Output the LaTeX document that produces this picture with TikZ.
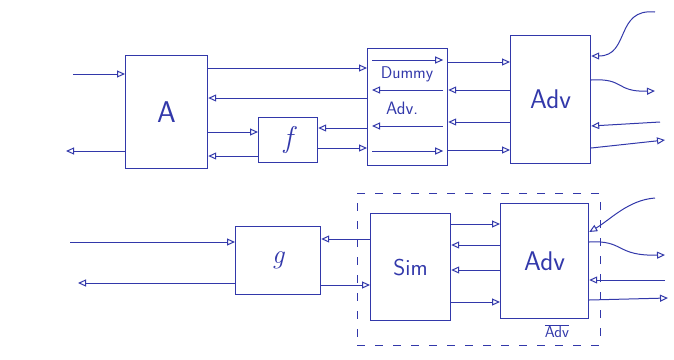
\documentclass[tikz,border=0pt]{standalone}
\usepackage{tikz}
\usetikzlibrary{arrows.meta,positioning,calc,fit}
\definecolor{pen}{RGB}{50,56,170}

\begin{document}
\begin{tikzpicture}[
  x=1pt,y=-1pt,
  box/.style={rectangle,draw=pen,line width=1.2pt,anchor=north west,inner sep=0pt,text=pen,font=\sffamily},
  lbl/.style={text=pen,font=\sffamily,inner sep=1pt},
  arrow/.style={pen,line width=1pt,-{Triangle[open,length=8pt,width=7pt]}},
  frame/.style={draw=pen,dashed,line width=0.8pt,dash pattern=on 8pt off 10pt,inner sep=0pt}
]
\useasboundingbox (0,0) rectangle (674,359);
% top row
\node[box,minimum width=82pt,minimum height=113pt,font=\sffamily\fontsize{30}{30}\selectfont] (A) at (125,55) {A};
\node[box,minimum width=59pt,minimum height=45pt,font=\rmfamily\itshape\fontsize{30}{30}\selectfont] (f) at (258,117) {f};
\node[box,minimum width=80pt,minimum height=117pt] (dummy) at (367,48) {};
\node[lbl,font=\sffamily\fontsize{17}{17}\selectfont] (dummytxt) at (407,74) {Dummy};
\node[lbl,font=\sffamily\fontsize{18}{18}\selectfont] (advtxt) at (402,108) {Adv.};
\node[box,minimum width=80pt,minimum height=128pt,font=\sffamily\fontsize{27}{27}\selectfont] (advtop) at (510,35) {Adv};
\coordinate (inA) at (73,74);
\coordinate (outA) at (66,151);
\coordinate (advin1) at (655,12);
\coordinate (advout1) at (655,91);
\coordinate (advin2) at (660,122);
\coordinate (advout2) at (665,140);
\draw[arrow] (inA) -- (A.west |- inA);
\draw[arrow] (A.west |- outA) -- (outA);
\draw[arrow] (A.east |- 0,68) -- (dummy.west |- 0,68);
\draw[arrow] (dummy.west |- 0,98) -- (A.east |- 0,98);
\draw[arrow] (A.east |- 0,132) -- (f.west |- 0,132);
\draw[arrow] (f.west |- 0,156) -- (A.east |- 0,156);
\draw[arrow] (dummy.west |- 0,128) -- (f.east |- 0,128);
\draw[arrow] (f.east |- 0,148) -- (dummy.west |- 0,148);
% inside the dummy adversary
\draw[arrow] ($(dummy.west |- 0,60)+(5,0)$) -- ($(dummy.east |- 0,60)+(-5,0)$);
\draw[arrow] ($(dummy.east |- 0,90)+(-5,0)$) -- ($(dummy.west |- 0,90)+(5,0)$);
\draw[arrow] ($(dummy.east |- 0,126)+(-5,0)$) -- ($(dummy.west |- 0,126)+(5,0)$);
\draw[arrow] ($(dummy.west |- 0,151)+(5,0)$) -- ($(dummy.east |- 0,151)+(-5,0)$);
\draw[arrow] (dummy.east |- 0,62) -- (advtop.west |- 0,62);
\draw[arrow] (advtop.west |- 0,90) -- (dummy.east |- 0,90);
\draw[arrow] (advtop.west |- 0,122) -- (dummy.east |- 0,122);
\draw[arrow] (dummy.east |- 0,150) -- (advtop.west |- 0,150);
\draw[arrow] (advin1) .. controls (615,8) and (630,56) .. (advtop.east |- 0,56);
\draw[arrow] (advtop.east |- 0,80) .. controls (625,78) and (615,92) .. (advout1);
\draw[arrow] (advin2) -- (advtop.east |- 0,126);
\draw[arrow] (advtop.east |- 0,148) -- (advout2);
% bottom row
\node[box,minimum width=85pt,minimum height=68pt,font=\rmfamily\itshape\fontsize{27}{27}\selectfont] (g) at (235,226) {g};
\node[box,minimum width=80pt,minimum height=107pt,font=\sffamily\fontsize{23}{23}\selectfont] (sim) at (370,213) {Sim};
\node[box,minimum width=88pt,minimum height=115pt,font=\sffamily\fontsize{27}{27}\selectfont] (advbot) at (500,203) {Adv};
\node[lbl,font=\sffamily\fontsize{16}{16}\selectfont] (advbar) at (557,331) {$\overline{\mbox{Adv}}$};
\node[frame,fit={(357,193) (600,345)}] (wrap) {};
\coordinate (inG) at (70,242);
\coordinate (outG) at (78,283);
\coordinate (advin3) at (655,198);
\coordinate (advout3) at (665,255);
\coordinate (advin4) at (665,280);
\coordinate (advout4) at (668,298);
\draw[arrow] (inG) -- (g.west |- inG);
\draw[arrow] (g.west |- outG) -- (outG);
\draw[arrow] (sim.west |- 0,239) -- (g.east |- 0,239);
\draw[arrow] (g.east |- 0,285) -- (sim.west |- 0,285);
\draw[arrow] (sim.east |- 0,224) -- (advbot.west |- 0,224);
\draw[arrow] (advbot.west |- 0,245) -- (sim.east |- 0,245);
\draw[arrow] (advbot.west |- 0,270) -- (sim.east |- 0,270);
\draw[arrow] (sim.east |- 0,302) -- (advbot.west |- 0,302);
\draw[arrow] (advin3) .. controls (628,200) and (610,220) .. (advbot.east |- 0,232);
\draw[arrow] (advbot.east |- 0,242) .. controls (625,240) and (615,256) .. (advout3);
\draw[arrow] (advin4) -- (advbot.east |- 0,280);
\draw[arrow] (advbot.east |- 0,300) -- (advout4);
\end{tikzpicture}
\end{document}
